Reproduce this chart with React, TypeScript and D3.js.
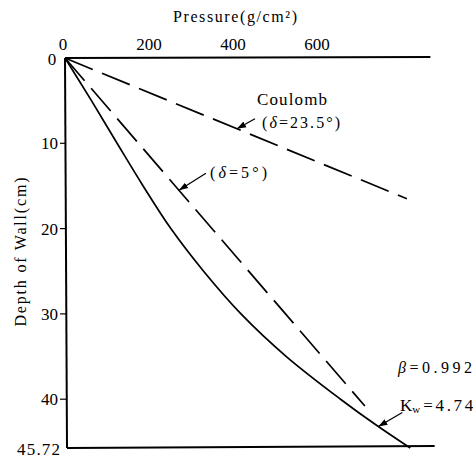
import React from "react";
import * as d3 from "d3";

// Data
const xTicks = [0, 200, 400, 600];
const yTicks = [10, 20, 30, 40];
const wallDepth = 45.72;

// Coulomb (delta = 23.5°) – straight line
const coulombDepth = [0, 16.5];
const coulombPressure = [0, 814];

// delta = 5° – straight line
const delta5Depth = [0, 40.8];
const delta5Pressure = [0, 714];

// beta = 0.992, Kw = 4.74 – solid curve
const solidDepth = [0, 5, 10, 15, 20, 25, 30, 35, 40, 43, 45.72];
const solidPressure = [0, 63, 124, 186, 252, 330, 419, 527, 656, 740, 822];

const W = 473;
const H = 458;
const FONT = "Liberation Serif";

export default function App() {
  const x = d3.scaleLinear().domain([0, 600]).range([65, 317]);
  const y = d3.scaleLinear().domain([0, wallDepth]).range([58, 448]);

  const pts = (ds: number[], ps: number[]) => ds.map((d, i) => [ps[i], d] as [number, number]);
  const line = d3
    .line<[number, number]>()
    .x((d) => x(d[0]))
    .y((d) => y(d[1]));
  const curve = d3
    .line<[number, number]>()
    .x((d) => x(d[0]))
    .y((d) => y(d[1]))
    .curve(d3.curveCatmullRom);

  const interp = (ds: number[], ps: number[], d: number) => d3.scaleLinear().domain(ds).range(ps)(d);

  // arrow tips computed from the data
  const cD = 8.3;
  const cTip: [number, number] = [x(interp(coulombDepth, coulombPressure, cD)), y(cD)];
  const dD = 15.5;
  const dTip: [number, number] = [x(interp(delta5Depth, delta5Pressure, dD)), y(dD)];
  const kD = 43.2;
  const kTip: [number, number] = [x(interp(solidDepth, solidPressure, kD)), y(kD)];

  const x0 = x(0);
  const xEndTop = x(870);
  const xEndBottom = x(880);
  const ts = { fontFamily: FONT };

  return (
    <svg width={W} height={H} style={{ position: "absolute", left: 0, top: 0, background: "#fff" }}>
      <defs>
        <marker id="ah" viewBox="0 0 10 10" refX="10" refY="5" markerWidth="7" markerHeight="7" orient="auto">
          <path d="M0,1.5 L10,5 L0,8.5 Z" fill="#000" />
        </marker>
      </defs>
      <g fill="#000">
        {/* axes */}
        <line x1={x0} y1={y(0)} x2={xEndTop} y2={y(0) - 1} stroke="#000" strokeWidth={2} />
        <line x1={x0} y1={y(0)} x2={x0 + 2} y2={y(wallDepth)} stroke="#000" strokeWidth={2} />
        <line x1={x0 + 2} y1={y(wallDepth)} x2={xEndBottom} y2={y(wallDepth) - 2} stroke="#000" strokeWidth={2} />

        {/* y ticks */}
        {yTicks.map((t) => (
          <g key={t}>
            <line x1={x0 - 5} x2={x0 + 1} y1={y(t)} y2={y(t)} stroke="#000" strokeWidth={1.2} />
            <text x={x0 - 7} y={y(t) + 6} fontSize={17} textAnchor="end" style={ts}>
              {t}
            </text>
          </g>
        ))}
        <text x={52} y={65} fontSize={17} textAnchor="middle" style={ts}>0</text>
        <text x={17} y={455} fontSize={17} textLength={43} lengthAdjust="spacing" style={ts}>
          45.72
        </text>

        {/* x tick labels */}
        {xTicks.map((t) => (
          <text key={t} x={x(t) - (t === 0 ? 2 : 0)} y={50} fontSize={17} textAnchor="middle" style={ts}>
            {t}
          </text>
        ))}

        {/* axis titles */}
        <text x={173} y={22} fontSize={16} textLength={124} lengthAdjust="spacing" style={ts}>
          Pressure(g/cm²)
        </text>
        <text
          transform="translate(26,252) rotate(-90)"
          fontSize={16}
          textAnchor="middle"
          textLength={149}
          lengthAdjust="spacing"
          style={ts}
        >
          Depth of Wall(cm)
        </text>

        {/* curves */}
        <path d={line(pts(coulombDepth, coulombPressure)) || ""} fill="none" stroke="#000" strokeWidth={1.7} strokeDasharray="30,10" />
        <path d={line(pts(delta5Depth, delta5Pressure)) || ""} fill="none" stroke="#000" strokeWidth={1.7} strokeDasharray="30,10" />
        <path d={curve(pts(solidDepth, solidPressure)) || ""} fill="none" stroke="#000" strokeWidth={1.7} />

        {/* annotations */}
        <text x={257} y={105} fontSize={17} textLength={70} lengthAdjust="spacing" style={ts}>Coulomb</text>
        <text x={262} y={128} fontSize={16} textLength={78} lengthAdjust="spacing" style={ts}>
          (<tspan fontStyle="italic">δ</tspan>=23.5°)
        </text>
        <line x1={cTip[0] + 18} y1={cTip[1] - 10} x2={cTip[0]} y2={cTip[1]} stroke="#000" strokeWidth={1.3} markerEnd="url(#ah)" />

        <text x={210} y={178} fontSize={16} textLength={57} lengthAdjust="spacing" style={ts}>
          (<tspan fontStyle="italic">δ</tspan>=5°)
        </text>
        <line x1={dTip[0] + 27} y1={dTip[1] - 17} x2={dTip[0]} y2={dTip[1]} stroke="#000" strokeWidth={1.3} markerEnd="url(#ah)" />

        <text x={398} y={373} fontSize={16} textLength={74} lengthAdjust="spacing" style={ts}>
          <tspan fontStyle="italic">β</tspan>=0.992
        </text>
        <text x={400} y={411} fontSize={17} style={ts}>
          K<tspan fontSize={11} dy={2}>w</tspan>
          <tspan dy={-2} dx={3} textLength={50} lengthAdjust="spacing">=4.74</tspan>
        </text>
        <line x1={kTip[0] + 24} y1={kTip[1] - 14} x2={kTip[0]} y2={kTip[1]} stroke="#000" strokeWidth={1.3} markerEnd="url(#ah)" />
      </g>
    </svg>
  );
}
